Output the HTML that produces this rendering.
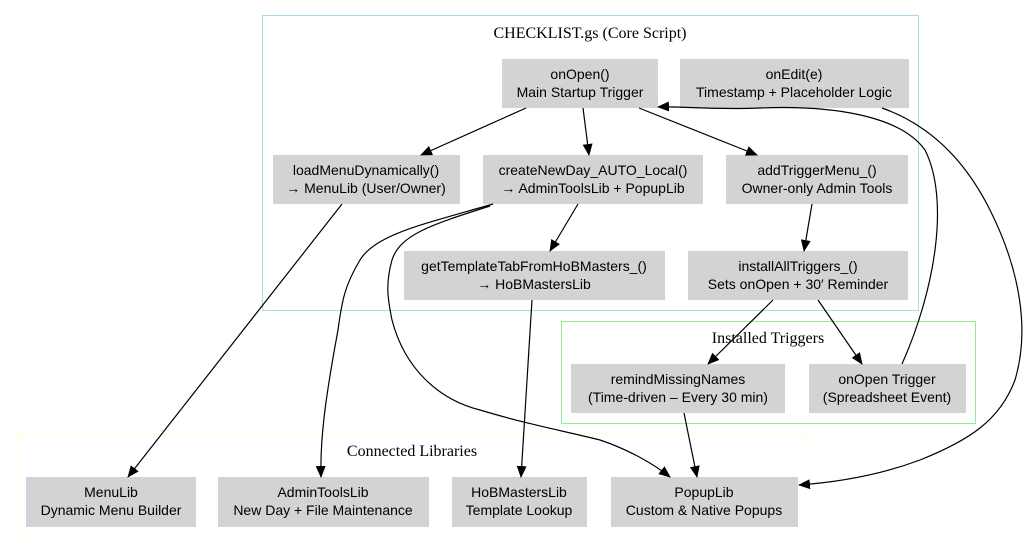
<!DOCTYPE html>
<html><head><meta charset="utf-8"><style>
html,body{margin:0;padding:0;background:#fff;}
svg text{font-family:"Liberation Sans",Arial,sans-serif;font-size:14px;fill:#000;}
svg text.t{font-family:"Liberation Serif",serif;font-size:16px;}
</style></head><body>
<svg width="1028" height="552" viewBox="0 0 1028 552" xmlns="http://www.w3.org/2000/svg">
<defs><marker id="a" markerWidth="12" markerHeight="10" refX="11" refY="5" orient="auto" markerUnits="userSpaceOnUse"><path d="M0,0 L12,5 L0,10 Z" fill="#000"/></marker></defs>
<rect x="262.5" y="15.5" width="656" height="295" fill="none" stroke="#add8e6"/>
<rect x="561.5" y="321.5" width="414" height="102" fill="none" stroke="#90ee90"/>
<rect x="16.5" y="433.5" width="790" height="104" fill="none" stroke="#ffffe0"/>
<text class="t" x="590" y="38" text-anchor="middle">CHECKLIST.gs (Core Script)</text>
<text class="t" x="768" y="343" text-anchor="middle">Installed Triggers</text>
<text class="t" x="412" y="456" text-anchor="middle">Connected Libraries</text>
<g fill="#d3d3d3">
<rect x="502" y="59" width="156" height="49"/>
<rect x="680" y="59" width="229" height="49"/>
<rect x="273" y="155" width="187" height="49"/>
<rect x="483" y="155" width="220" height="49"/>
<rect x="726" y="155" width="182" height="49"/>
<rect x="404" y="251" width="261" height="49"/>
<rect x="688" y="251" width="220" height="49"/>
<rect x="571" y="364" width="214" height="49"/>
<rect x="809" y="364" width="157" height="49"/>
<rect x="26" y="477" width="170" height="50"/>
<rect x="218" y="477" width="211" height="50"/>
<rect x="452" y="477" width="135" height="50"/>
<rect x="611" y="477" width="187" height="50"/>
</g>
<g text-anchor="middle">
<text x="580" y="79">onOpen()</text><text x="580" y="97">Main Startup Trigger</text>
<text x="794" y="79">onEdit(e)</text><text x="794" y="97">Timestamp + Placeholder Logic</text>
<text x="366" y="175">loadMenuDynamically()</text><text x="366" y="193">→ MenuLib (User/Owner)</text>
<text x="593" y="175">createNewDay_AUTO_Local()</text><text x="593" y="193">→ AdminToolsLib + PopupLib</text>
<text x="817" y="175">addTriggerMenu_()</text><text x="817" y="193">Owner-only Admin Tools</text>
<text x="534" y="271">getTemplateTabFromHoBMasters_()</text><text x="534" y="289">→ HoBMastersLib</text>
<text x="798" y="271">installAllTriggers_()</text><text x="798" y="289">Sets onOpen + 30′ Reminder</text>
<text x="678" y="384">remindMissingNames</text><text x="678" y="402">(Time-driven – Every 30 min)</text>
<text x="887" y="384">onOpen Trigger</text><text x="887" y="402">(Spreadsheet Event)</text>
<text x="111" y="497">MenuLib</text><text x="111" y="515">Dynamic Menu Builder</text>
<text x="323" y="497">AdminToolsLib</text><text x="323" y="515">New Day + File Maintenance</text>
<text x="519" y="497">HoBMastersLib</text><text x="519" y="515">Template Lookup</text>
<text x="704" y="497">PopupLib</text><text x="704" y="515">Custom &amp; Native Popups</text>
</g>
<g fill="none" stroke="#000" stroke-width="1.2" marker-end="url(#a)">
<path d="M526,108 L421,155"/>
<path d="M583,108 L589,155"/>
<path d="M639,108 L757,155"/>
<path d="M342,204 L128,477"/>
<path d="M578,204 L550,251"/>
<path d="M493,204 C420,225 375,235 360,260 C345,285 342,300 338,330 C325,400 320,440 321,477"/>
<path d="M490,206 C430,225 400,235 392,260 C385,285 388,300 392,320 C405,370 440,400 480,410 C530,425 560,430 600,440 C630,450 655,465 670,477"/>
<path d="M532,300 L521,477"/>
<path d="M812,204 L804,251"/>
<path d="M773,300 L708,364"/>
<path d="M818,300 L862,364"/>
<path d="M684,413 L697,477"/>
<path d="M902,364 C935,290 950,200 925,150 C900,115 830,105 760,108 C710,110 680,106 658,107"/>
<path d="M882,108 C930,125 965,160 990,210 C1020,270 1030,330 1015,380 C1000,420 970,440 920,460 C880,475 840,482 799,485"/>
</g>
</svg>
</body></html>
